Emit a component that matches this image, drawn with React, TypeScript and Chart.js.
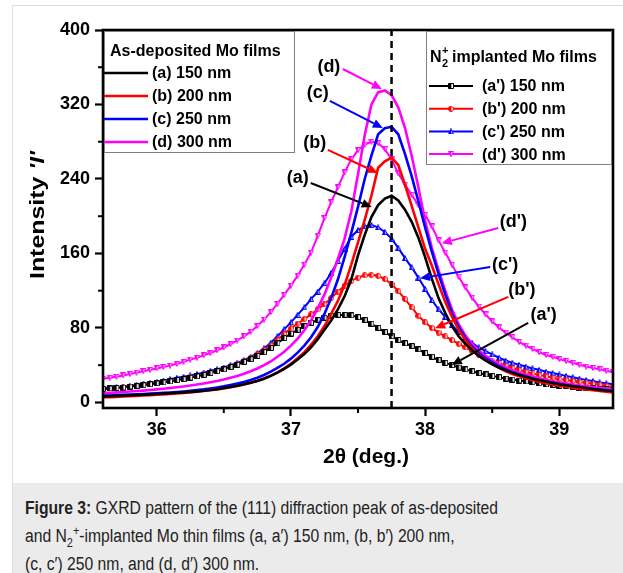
import React, { useEffect, useRef } from "react";
import { Chart, registerables } from "chart.js";

Chart.register(...registerables);

// 2θ grid (deg.)
const TWO_THETA = [
  35.6, 35.65, 35.7, 35.75, 35.8, 35.85, 35.9, 35.95,
  36, 36.05, 36.1, 36.15, 36.2, 36.25, 36.3, 36.35, 36.4, 36.45, 36.5, 36.55, 36.6, 36.65, 36.7, 36.75, 36.8, 36.85, 36.9, 36.95,
  37, 37.05, 37.1, 37.15, 37.2, 37.25, 37.3, 37.35, 37.4, 37.45, 37.5, 37.55, 37.6, 37.65, 37.7, 37.75, 37.8, 37.85, 37.9, 37.95,
  38, 38.05, 38.1, 38.15, 38.2, 38.25, 38.3, 38.35, 38.4, 38.45, 38.5, 38.55, 38.6, 38.65, 38.7, 38.75, 38.8, 38.85, 38.9, 38.95,
  39, 39.05, 39.1, 39.15, 39.2, 39.25, 39.3, 39.35, 39.4,
];

// As-deposited Mo films
const DEP_150 = [
  6.5, 6.8, 7, 7.3, 7.6, 7.9, 8.2, 8.6,
  9, 9.4, 9.8, 10.3, 10.8, 11.3, 11.9, 12.6, 13.3, 14.1, 15.5, 16.7, 18, 19.4, 21, 23, 25.5, 28.5, 32, 36,
  40.5, 46, 52, 59, 68, 78, 88, 100, 114, 132, 158, 180, 199, 212, 219, 222, 217, 207, 194, 177,
  156, 133, 112, 96, 82, 71, 63, 56, 50, 45, 41, 37.5, 34.5, 32, 29.5, 27.5, 25.5, 24, 22.5, 21,
  19.5, 18.5, 17.5, 16.5, 15.5, 14.5, 13.5, 12.8, 12,
];
const DEP_200 = [
  5.5, 5.7, 6, 6.3, 6.6, 7, 7.4, 7.8,
  8.2, 8.6, 9.1, 9.6, 10.2, 10.8, 11.5, 12.2, 13, 13.9, 15, 16.2, 17.6, 19.2, 21, 23.2, 25.8, 28.8, 32.3, 36.5,
  41.5, 47.5, 54, 62, 71, 82, 95, 109, 126, 148, 172, 196, 222, 252, 259, 263, 255, 234, 211, 188,
  165, 147, 127, 108, 92, 78, 67, 58, 51, 45.5, 41, 37, 33.5, 30.5, 28, 26, 24, 22.2, 20.6, 19.2,
  18, 16.8, 15.7, 14.7, 13.8, 13, 12.2, 11.5, 10.8,
];
const DEP_250 = [
  7.3, 7.5, 7.8, 8.1, 8.4, 8.7, 9, 9.4,
  9.8, 10.2, 10.7, 11.2, 11.8, 12.5, 13.2, 14, 15, 16.1, 17.3, 18.7, 20.2, 22, 24, 26.5, 29.5, 33, 37, 41.5,
  47, 53.5, 61, 70, 81, 95, 112, 132, 156, 182, 210, 240, 265, 288, 294.5, 296, 288, 267, 243, 216,
  188, 162, 138, 116, 96, 81, 69, 60, 53, 47.5, 43, 39, 35.5, 32.5, 30, 27.8, 25.8, 24, 22.4, 21,
  19.7, 18.5, 17.4, 16.4, 15.5, 14.6, 13.8, 13.1, 12.4,
];
const DEP_300 = [
  10, 10.4, 10.8, 11.2, 11.7, 12.2, 12.7, 13.3,
  14, 14.7, 15.4, 16.2, 17.1, 18.1, 19.2, 20.4, 21.7, 23.1, 24.7, 26.5, 28.5, 30.8, 33.4, 36.4, 40, 44, 49, 54.5,
  61, 68.5, 77.5, 88, 101, 116, 134, 154, 176, 205, 245, 287, 320, 333, 335, 330, 317, 295, 265, 231,
  195, 166, 142, 120, 100, 84, 72, 63, 56, 50, 45, 41, 37.5, 34.5, 32, 29.7, 27.7, 25.9, 24.3, 22.8,
  21.5, 20.3, 19.2, 18.2, 17.3, 16.5, 15.7, 15, 14.3,
];

// N2+ implanted Mo films
const IMP_150 = [
  14.5, 15, 15.5, 16, 17, 17.5, 18.5, 19.5,
  20.5, 21.5, 22.5, 24, 25, 26.5, 28, 29.5, 31.5, 33.5, 35.5, 38, 40.5, 43.5, 46.5, 50, 54, 58.5, 63.5, 69,
  74, 78, 82, 85.5, 88.5, 91, 93, 94, 94, 93.5, 91.5, 88.5, 84.5, 80, 75.5, 71, 67, 63.5, 60.5, 57,
  53, 49, 45.5, 42.5, 40, 37.5, 35.5, 33.5, 31.5, 30, 28.5, 27, 25.5, 24.5, 23.5, 22.5, 21.5, 20.5, 19.5, 19,
  18, 17.5, 16.5, 16, 15.5, 15, 14.5, 14, 13.5,
];
const IMP_200 = [
  14.5, 15, 15.5, 16.5, 17, 18, 19, 20,
  21, 22, 23, 24.5, 25.5, 27, 28.5, 30, 32, 34, 36, 38.5, 41, 44, 47.5, 51.5, 56, 61, 67, 73.5,
  79.5, 84.5, 89.5, 94.5, 100, 105.5, 112, 119, 125.5, 130.5, 134, 136.5, 137, 136, 132.5, 127, 119.5, 111, 102, 93,
  86, 80, 75, 71, 67, 63, 59, 55, 51, 48, 45, 42, 39.5, 37, 35, 33, 31, 29.5, 28, 26.5,
  25, 24, 23, 22, 21, 20, 19, 17.5, 16.5,
];
const IMP_250 = [
  15.5, 16, 16.5, 17, 18, 19, 20, 21,
  22, 23.5, 25, 26.5, 27.5, 29, 30.5, 32, 34, 35.5, 37.5, 40, 42.5, 45.5, 49, 53, 58, 64, 71, 78.5,
  86, 94, 102, 111, 119, 128, 139, 152, 165, 178, 185, 189, 190.5, 188, 183, 176, 166, 155, 145, 134,
  122, 110, 100, 92, 83, 76, 69.5, 64, 59, 55, 51.5, 48, 45, 42.5, 40.5, 38.5, 36.5, 35, 33, 31.5,
  30, 28.5, 27, 25.5, 24, 23, 21.5, 20.5, 19.5,
];
const IMP_300 = [
  25.5, 26.5, 27.5, 29, 30.5, 32, 33.5, 35,
  36.5, 38, 39.5, 41.5, 43.5, 46, 48, 50.5, 53, 56, 59, 62.5, 66.5, 71, 76, 82, 89, 97, 106, 115.5,
  125.5, 136, 148, 161, 179, 198, 215, 231, 247, 261, 271, 277, 280, 278.5, 272, 261, 246, 234, 223, 212,
  201.5, 189, 174, 161, 148, 135, 123.5, 112.5, 103, 94.5, 87, 80.5, 75, 70, 65, 61, 57.5, 54, 51, 49,
  46.5, 44.5, 42.5, 40.5, 38.5, 37, 35.5, 34, 32.5,
];

const X_TICKS = [36, 37, 38, 39];
const X_MINOR = [36.5, 37.5, 38.5];
const Y_TICKS = [0, 80, 160, 240, 320, 400];
const Y_MINOR = [40, 120, 200, 280, 360];
const PEAK_LINE = 37.75;

const DEP_LABELS = ["(a) 150 nm", "(b) 200 nm", "(c) 250 nm", "(d) 300 nm"];
const IMP_LABELS = ["(a') 150 nm", "(b') 200 nm", "(c') 250 nm", "(d') 300 nm"];

const BLACK = "#000000";
const RED = "#ff0000";
const BLUE = "#0000ff";
const MAGENTA = "#ff00ff";
const COLORS = [BLACK, RED, BLUE, MAGENTA];
const MARKERS = ["rect", "circle", "triUp", "triDown"];

// callouts: label position, arrow start, arrow tip (data coordinates)
const CALLOUTS = [
  { label: "(d)", color: MAGENTA, at: [37.283, 360.3], from: [37.387, 358.1], to: [37.678, 336.7] },
  { label: "(c)", color: BLUE, at: [37.2, 332.4], from: [37.29, 323.8], to: [37.685, 294.8] },
  { label: "(b)", color: RED, at: [37.178, 278.7], from: [37.275, 271.2], to: [37.648, 246.5] },
  { label: "(a)", color: BLACK, at: [37.051, 241.1], from: [37.148, 235.7], to: [37.603, 209.8] },
  { label: "(d')", color: MAGENTA, at: [38.657, 193.8], from: [38.545, 187.4], to: [38.124, 171] },
  { label: "(c')", color: BLUE, at: [38.597, 147.7], from: [38.485, 145.5], to: [37.962, 133.4] },
  { label: "(b')", color: RED, at: [38.721, 120.8], from: [38.62, 113.3], to: [38.074, 79.7] },
  { label: "(a')", color: BLACK, at: [38.883, 94], from: [38.768, 85.4], to: [38.199, 40.3] },
];

const FONT = "Liberation Sans, Arial, sans-serif";
const CAPTION_LINE_WIDTH = 473;

function markerPath(g: CanvasRenderingContext2D, shape: string, s: number) {
  g.beginPath();
  if (shape === "rect") g.rect(0.5, 0.5, s - 1, s - 1);
  else if (shape === "circle") g.arc(s / 2, s / 2, s / 2 - 0.5, 0, Math.PI * 2);
  else if (shape === "triUp") {
    g.moveTo(s / 2, 0.5); g.lineTo(s - 0.5, s - 0.5); g.lineTo(0.5, s - 0.5); g.closePath();
  } else {
    g.moveTo(0.5, 0.5); g.lineTo(s - 0.5, 0.5); g.lineTo(s / 2, s - 0.5); g.closePath();
  }
}

function makeMarker(shape: string, color: string, s = 6) {
  const c = document.createElement("canvas");
  c.width = s; c.height = s;
  const g = c.getContext("2d") as CanvasRenderingContext2D;
  markerPath(g, shape, s);
  g.fillStyle = "#ffffff"; g.fill();
  g.save(); markerPath(g, shape, s); g.clip();
  g.fillStyle = color; g.fillRect(0, 0, s * 0.55, s); g.restore();
  markerPath(g, shape, s);
  g.strokeStyle = color; g.lineWidth = 1; g.stroke();
  return c;
}

function arrow(ctx: CanvasRenderingContext2D, x1: number, y1: number, x2: number, y2: number, color: string) {
  const ang = Math.atan2(y2 - y1, x2 - x1);
  const hl = 10, hw = 4.5;
  const bx = x2 - hl * Math.cos(ang), by = y2 - hl * Math.sin(ang);
  ctx.strokeStyle = color; ctx.fillStyle = color; ctx.lineWidth = 2;
  ctx.beginPath(); ctx.moveTo(x1, y1); ctx.lineTo(bx, by); ctx.stroke();
  ctx.beginPath();
  ctx.moveTo(x2, y2);
  ctx.lineTo(bx + hw * Math.sin(ang), by - hw * Math.cos(ang));
  ctx.lineTo(bx - hw * Math.sin(ang), by + hw * Math.cos(ang));
  ctx.closePath(); ctx.fill();
}

export default function App() {
  const ref = useRef<HTMLCanvasElement | null>(null);
  const capRef = useRef<HTMLDivElement | null>(null);
  const line1Ref = useRef<HTMLSpanElement | null>(null);

  useEffect(() => {
    const cap = capRef.current, line1 = line1Ref.current;
    if (cap && line1) {
      const w = line1.getBoundingClientRect().width;
      if (w > 0) cap.style.transform = `scaleX(${CAPTION_LINE_WIDTH / w})`;
    }
    const canvas = ref.current;
    if (!canvas) return;
    const markerImgs = MARKERS.map((m, i) => makeMarker(m, COLORS[i]));
    const dep = [DEP_150, DEP_200, DEP_250, DEP_300];
    const imp = [IMP_150, IMP_200, IMP_250, IMP_300];
    const toPts = (arr: number[]) => TWO_THETA.map((x, i) => ({ x, y: arr[i] }));

    const datasets: any[] = [];
    dep.forEach((arr, i) => {
      datasets.push({
        label: DEP_LABELS[i], data: toPts(arr), borderColor: COLORS[i], borderWidth: 2.6,
        pointRadius: 0, tension: 0, fill: false,
      });
    });
    imp.forEach((arr, i) => {
      datasets.push({
        label: IMP_LABELS[i], data: toPts(arr), borderColor: COLORS[i], borderWidth: 2,
        pointStyle: markerImgs[i], pointRadius: 3, tension: 0, fill: false,
      });
    });

    const overlay = {
      id: "overlay",
      afterDatasetsDraw(chart: any) {
        const { ctx, chartArea: ca, scales } = chart;
        const xs = scales.x, ys = scales.y;
        ctx.save();
        // dashed reference line
        const px = xs.getPixelForValue(PEAK_LINE);
        ctx.strokeStyle = "#000"; ctx.lineWidth = 2.5; ctx.setLineDash([7, 5]);
        ctx.beginPath(); ctx.moveTo(px, ca.bottom); ctx.lineTo(px, ca.top); ctx.stroke();
        ctx.setLineDash([]);
        // minor ticks
        ctx.lineWidth = 2;
        X_MINOR.forEach((v) => {
          const p = xs.getPixelForValue(v);
          ctx.beginPath(); ctx.moveTo(p, ca.bottom); ctx.lineTo(p, ca.bottom + 5); ctx.stroke();
        });
        Y_MINOR.forEach((v) => {
          const p = ys.getPixelForValue(v);
          ctx.beginPath(); ctx.moveTo(ca.left, p); ctx.lineTo(ca.left - 5, p); ctx.stroke();
        });
        // frame
        ctx.lineWidth = 2.6;
        ctx.strokeRect(ca.left, ca.top, ca.right - ca.left, ca.bottom - ca.top);

        // callouts
        ctx.font = `bold 18px ${FONT}`;
        ctx.textAlign = "center"; ctx.textBaseline = "middle";
        CALLOUTS.forEach((c) => {
          arrow(ctx, xs.getPixelForValue(c.from[0]), ys.getPixelForValue(c.from[1]),
            xs.getPixelForValue(c.to[0]), ys.getPixelForValue(c.to[1]), c.color);
          ctx.fillStyle = "#000";
          ctx.fillText(c.label, xs.getPixelForValue(c.at[0]), ys.getPixelForValue(c.at[1]));
        });

        // left legend
        ctx.lineWidth = 1; ctx.strokeStyle = "#808080"; ctx.fillStyle = "#fff";
        ctx.fillRect(ca.left + 1.5, ca.top + 1.5, 190, 121);
        ctx.strokeRect(ca.left + 1.5, ca.top + 1.5, 190, 121);
        ctx.fillStyle = "#000"; ctx.textAlign = "left"; ctx.textBaseline = "middle";
        ctx.font = `bold 16px ${FONT}`;
        ctx.fillText("As-deposited Mo films", ca.left + 7, ca.top + 22);
        DEP_LABELS.forEach((t, i) => {
          const yy = ca.top + 43 + i * 23;
          ctx.strokeStyle = COLORS[i]; ctx.lineWidth = 2.6;
          ctx.beginPath(); ctx.moveTo(ca.left + 1, yy); ctx.lineTo(ca.left + 45, yy); ctx.stroke();
          ctx.fillStyle = "#000";
          ctx.fillText(t, ca.left + 49, yy + 1);
        });

        // right legend
        const rl = ca.right - 187;
        ctx.lineWidth = 1; ctx.strokeStyle = "#808080"; ctx.fillStyle = "#fff";
        ctx.fillRect(rl + 0.5, ca.top + 1.5, 185, 133);
        ctx.strokeRect(rl + 0.5, ca.top + 1.5, 185, 133);
        ctx.fillStyle = "#000";
        ctx.font = `bold 16px ${FONT}`;
        let tx = rl + 4;
        const ty = ca.top + 28;
        ctx.fillText("N", tx, ty);
        tx += ctx.measureText("N").width;
        ctx.font = `bold 11px ${FONT}`;
        ctx.fillText("2", tx + 0.5, ty + 6);
        ctx.fillText("+", tx + 0.5, ty - 7);
        tx += ctx.measureText("+").width + 4;
        ctx.font = `bold 16px ${FONT}`;
        ctx.fillText("implanted Mo films", tx, ty);
        IMP_LABELS.forEach((t, i) => {
          const yy = ca.top + 56 + i * 22.7;
          ctx.strokeStyle = COLORS[i]; ctx.lineWidth = 2;
          ctx.beginPath(); ctx.moveTo(rl + 3, yy); ctx.lineTo(rl + 47, yy); ctx.stroke();
          const img = markerImgs[i];
          ctx.drawImage(img, rl + 25 - img.width / 2, yy - img.height / 2);
          ctx.fillStyle = "#000";
          ctx.fillText(t, rl + 56, yy + 1);
        });

        // axis titles
        ctx.fillStyle = "#000";
        ctx.font = `bold 21px ${FONT}`;
        ctx.textAlign = "center"; ctx.textBaseline = "middle";
        ctx.fillText("2\u03b8 (deg.)", (ca.left + ca.right) / 2 + 8, ca.bottom + 49);

        ctx.save();
        ctx.translate(25, (ca.top + ca.bottom) / 2 - 4);
        ctx.rotate(-Math.PI / 2);
        ctx.font = `bold 20px ${FONT}`;
        const w1 = ctx.measureText("Intensity ").width;
        ctx.font = `italic bold 20px ${FONT}`;
        const w2 = ctx.measureText("'I'").width;
        const sx = 128 / (w1 + w2);
        ctx.scale(sx, 1);
        ctx.textAlign = "left";
        ctx.font = `bold 20px ${FONT}`;
        ctx.fillText("Intensity ", -(w1 + w2) / 2, 0);
        ctx.font = `italic bold 20px ${FONT}`;
        ctx.fillText("'I'", -(w1 + w2) / 2 + w1, 0);
        ctx.restore();

        ctx.restore();
      },
    };

    const tickFont = { family: FONT, weight: "bold" as const, size: 18 };
    const chart = new Chart(canvas, {
      type: "line",
      data: { datasets },
      options: {
        animation: false,
        responsive: false,
        devicePixelRatio: 1,
        events: [],
        layout: { padding: { top: 24, right: 10, left: 0, bottom: 0 } },
        plugins: { legend: { display: false }, tooltip: { enabled: false }, title: { display: false } },
        scales: {
          x: {
            type: "linear", min: 35.6, max: 39.4,
            afterBuildTicks: (s: any) => { s.ticks = X_TICKS.map((v) => ({ value: v })); },
            afterFit: (s: any) => { s.height = 75; },
            grid: { drawOnChartArea: false, drawTicks: true, tickLength: 8, tickWidth: 2.2, tickColor: "#000" },
            border: { display: false },
            ticks: { color: "#000", font: tickFont, padding: 3, maxRotation: 0, autoSkip: false, callback: (v: any) => String(v) },
          },
          y: {
            type: "linear", min: -6, max: 400,
            afterBuildTicks: (s: any) => { s.ticks = Y_TICKS.map((v) => ({ value: v })); },
            afterFit: (s: any) => { s.width = 90; },
            grid: { drawOnChartArea: false, drawTicks: true, tickLength: 8, tickWidth: 2.2, tickColor: "#000" },
            border: { display: false },
            ticks: { color: "#000", font: tickFont, padding: 5, autoSkip: false, callback: (v: any) => String(v) },
          },
        },
      },
      plugins: [overlay],
    });
    return () => chart.destroy();
  }, []);

  const supSub = { fontSize: "70%", lineHeight: 0 } as const;
  return (
    <div style={{ position: "fixed", inset: 0, overflow: "hidden", background: "#fff" }}>
      <div style={{ position: "absolute", left: 12, top: 5, width: 640, height: 620, border: "1px solid #dedede", background: "#fff" }}>
        <canvas ref={ref} width={610} height={477} style={{ position: "absolute", left: 0, top: 0, width: 610, height: 477 }} />
        <div style={{ position: "absolute", left: 0, top: 477, width: "100%", height: 200, background: "#ebebeb" }}>
          <div
            ref={capRef}
            style={{
              position: "absolute", left: 12, top: 11, whiteSpace: "nowrap", transformOrigin: "0 0",
              fontFamily: '"Liberation Sans", Arial, sans-serif', fontSize: 18,
              lineHeight: "28px", color: "#222",
            }}
          >
            <span ref={line1Ref}><b>Figure 3:</b> GXRD pattern of the (111) diffraction peak of as-deposited</span><br />
            and N<sub style={supSub}>2</sub><sup style={supSub}>+</sup>-implanted Mo thin films (a, a′) 150 nm, (b, b′) 200 nm,<br />
            (c, c′) 250 nm, and (d, d′) 300 nm.
          </div>
        </div>
      </div>
    </div>
  );
}
